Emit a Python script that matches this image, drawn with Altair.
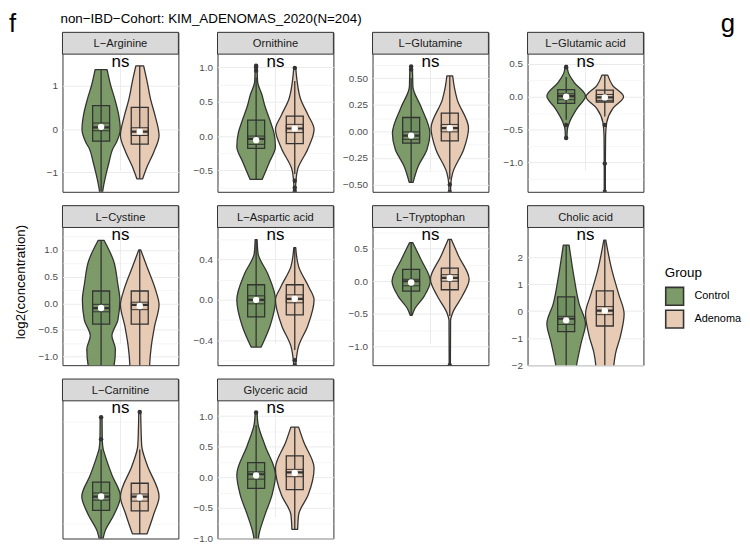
import json
import altair as alt
import pandas as pd

# ---------------- data ----------------
metabolites = ["L−Arginine", "Ornithine", "L−Glutamine", "L−Glutamic acid",
               "L−Cystine", "L−Aspartic acid", "L−Tryptophan", "Cholic acid",
               "L−Carnitine", "Glyceric acid"]
groups = ["Control", "Adenoma"]
fill_colors = ["#7d9b69", "#e8cbb4"]
box_colors = ["#71905f", "#e0c2aa"]
panel_tags = ["f", "g"]
chart_title = "non−IBD−Cohort: KIM_ADENOMAS_2020(N=204)"
y_title = "log2(concentration)"
sig_label = "ns"

# panel y ranges
y_min = [-1.45, -0.81, -0.568, -1.45, -1.16, -0.65, -1.28, -2.0, -0.79, -1.0]
y_max = [1.73, 1.19, 0.725, 0.65, 1.42, 0.72, 0.82, 3.1, 1.9, 1.25]
major_ticks = [[-1, 0, 1], [-0.5, 0, 0.5, 1.0], [-0.5, -0.25, 0, 0.25, 0.5],
               [-1.0, -0.5, 0, 0.5], [-1, -0.5, 0, 0.5, 1], [-0.4, 0, 0.4],
               [-1, -0.5, 0, 0.5], [-2, -1, 0, 1, 2], [0, 1], [-1, -0.5, 0, 0.5, 1]]
minor_ticks = [[-0.5, 0.5, 1.5], [-0.75, -0.25, 0.25, 0.75],
               [-0.375, -0.125, 0.125, 0.375, 0.625], [-1.25, -0.75, -0.25, 0.25],
               [-0.75, -0.25, 0.25, 0.75, 1.25], [-0.6, -0.2, 0.2, 0.6],
               [-1.25, -0.75, -0.25, 0.25, 0.75], [-1.5, -0.5, 0.5, 1.5, 2.5],
               [-0.5, 0.5, 1.5], [-0.75, -0.25, 0.25, 0.75]]
tick_formats = ["d", ".1f", ".2f", ".1f", ".1f", ".1f", ".1f", "d", "d", ".1f"]

# violin outlines: y values and relative half-widths (1 = widest)
control_violin_y = [
    [1.37, 1.0, 0.69, 0.3, 0.0, -0.3, -0.46, -0.75, -1.0, -1.45, -1.7],
    [1.02, 0.9, 0.78, 0.6, 0.44, 0.2, 0.05, -0.15, -0.39, -0.63],
    [0.61, 0.5, 0.42, 0.23, -0.02, -0.17, -0.33, -0.48],
    [0.48, 0.38, 0.22, 0.01, -0.18, -0.39, -0.5, -0.63],
    [1.18, 0.8, 0.37, 0.06, -0.31, -0.61, -0.86, -1.17, -1.3],
    [0.6, 0.46, 0.26, 0.0, -0.26, -0.42, -0.47],
    [0.59, 0.33, 0.0, -0.23, -0.43, -0.52],
    [2.45, 1.24, 0.27, -0.46, -1.19, -2.04, -2.2],
    [1.58, 1.15, 0.97, 0.84, 0.45, 0.03, -0.32, -0.65, -0.79],
    [1.06, 0.87, 0.52, 0.04, -0.29, -0.61, -0.93, -1.1],
]
control_violin_w = [
    [0.31, 0.5, 0.71, 0.92, 0.99, 0.8, 0.6, 0.42, 0.28, 0.08, 0.04],
    [0.05, 0.06, 0.08, 0.3, 0.45, 0.75, 0.92, 1.0, 0.67, 0.31],
    [0.06, 0.08, 0.09, 0.51, 0.97, 0.82, 0.36, 0.1],
    [0.05, 0.1, 0.41, 1.0, 0.56, 0.17, 0.06, 0.04],
    [0.15, 0.64, 0.86, 0.97, 0.87, 0.56, 0.74, 0.67, 0.6],
    [0.05, 0.1, 0.6, 1.0, 0.72, 0.38, 0.26],
    [0.08, 0.51, 0.99, 0.67, 0.17, 0.05],
    [0.15, 0.41, 0.67, 1.0, 0.77, 0.53, 0.5],
    [0.05, 0.06, 0.1, 0.2, 0.56, 1.0, 0.67, 0.2, 0.1],
    [0.05, 0.1, 0.46, 1.0, 0.82, 0.46, 0.15, 0.08],
]
adenoma_violin_y = [
    [1.46, 1.1, 0.69, 0.3, -0.15, -0.54, -0.85, -1.15],
    [0.99, 0.8, 0.53, 0.3, 0.1, -0.19, -0.48, -0.65, -0.8],
    [0.52, 0.4, 0.3, 0.03, -0.17, -0.39, -0.5, -0.6],
    [0.33, 0.17, 0.0, -0.18, -0.39, -0.6, -1.0, -1.45],
    [1.0, 0.68, 0.25, -0.03, -0.43, -0.8, -1.17, -1.3],
    [0.52, 0.33, 0.13, 0.0, -0.26, -0.46, -0.59, -0.7],
    [0.64, 0.38, 0.03, -0.23, -0.48, -0.6, -1.35],
    [2.63, 1.48, 0.63, -0.1, -0.95, -1.55, -2.04, -2.2],
    [1.68, 1.03, 0.65, 0.03, -0.32, -0.7],
    [0.82, 0.58, 0.15, -0.29, -0.61, -0.85],
]
adenoma_violin_w = [
    [0.2, 0.38, 0.56, 0.8, 1.0, 0.72, 0.4, 0.15],
    [0.05, 0.12, 0.31, 0.7, 1.0, 0.67, 0.15, 0.06, 0.04],
    [0.15, 0.25, 0.38, 0.97, 0.72, 0.15, 0.05, 0.04],
    [0.15, 0.41, 0.97, 0.41, 0.1, 0.04, 0.03, 0.03],
    [0.05, 0.38, 0.82, 1.0, 0.77, 0.6, 0.51, 0.5],
    [0.05, 0.2, 0.72, 1.0, 0.67, 0.2, 0.08, 0.04],
    [0.08, 0.46, 1.0, 0.64, 0.15, 0.04, 0.03],
    [0.05, 0.38, 0.72, 1.0, 0.8, 0.56, 0.46, 0.44],
    [0.05, 0.1, 0.38, 1.0, 0.72, 0.38],
    [0.2, 0.46, 1.0, 0.69, 0.2, 0.15],
]

# box statistics
control_q1 = [-0.28, -0.18, -0.11, -0.1, -0.39, -0.17, -0.15, -0.76, -0.24, -0.18]
control_median = [0.04, -0.04, -0.04, 0.01, -0.09, 0.0, 0.0, -0.28, 0.03, 0.05]
control_q3 = [0.54, 0.23, 0.13, 0.11, 0.23, 0.15, 0.18, 0.53, 0.31, 0.24]
control_wlo = [-1.6, -0.63, -0.48, -0.35, -1.25, -0.47, -0.52, -2.2, -0.79, -1.1]
control_whi = [1.37, 0.85, 0.5, 0.3, 1.18, 0.6, 0.59, 2.45, 0.95, 0.85]
control_mean = [0.05, -0.06, -0.04, 0.0, -0.09, 0.0, -0.02, -0.34, 0.03, 0.03]
control_se = [0.09, 0.06, 0.035, 0.045, 0.07, 0.04, 0.05, 0.15, 0.07, 0.06]
control_outliers = [[], [0.95, 1.0, 1.02], [0.58, 0.61], [0.45, -0.43, -0.63], [], [],
                    [], [], [1.15, 1.58], [1.06]]

adenoma_q1 = [-0.35, -0.11, -0.09, -0.08, -0.39, -0.15, -0.13, -0.55, -0.25, -0.2]
adenoma_median = [-0.06, 0.11, 0.03, -0.01, -0.03, 0.01, 0.05, 0.02, 0.03, 0.08]
adenoma_q3 = [0.5, 0.29, 0.17, 0.1, 0.23, 0.15, 0.2, 0.75, 0.29, 0.35]
adenoma_wlo = [-1.15, -0.55, -0.45, -0.3, -1.25, -0.5, -0.53, -2.2, -0.7, -0.85]
adenoma_whi = [1.46, 0.8, 0.52, 0.33, 1.0, 0.52, 0.64, 2.63, 0.95, 0.82]
adenoma_mean = [-0.06, 0.11, 0.03, -0.01, -0.05, 0.01, 0.05, 0.02, 0.01, 0.07]
adenoma_se = [0.09, 0.06, 0.035, 0.045, 0.07, 0.04, 0.05, 0.15, 0.07, 0.06]
adenoma_outliers = [[], [0.99, -0.65, -0.75, -0.8], [-0.5, -0.57], [-0.43, -1.02, -1.45],
                    [], [-0.6, -0.65], [-1.28], [], [1.68], []]

# ---------------- layout constants ----------------
PW, PH, SH = 117, 139, 22
H = PH + SH
DODGE = 0.8
MAXHW = 0.2
BOXHW = 0.088
INK = "#333333"
FONT = "Liberation Sans"

stats = {
    "Control": (control_q1, control_median, control_q3, control_wlo, control_whi,
                control_mean, control_se, control_outliers, control_violin_y, control_violin_w),
    "Adenoma": (adenoma_q1, adenoma_median, adenoma_q3, adenoma_wlo, adenoma_whi,
                adenoma_mean, adenoma_se, adenoma_outliers, adenoma_violin_y, adenoma_violin_w),
}

fill_scale = alt.Scale(domain=groups, range=fill_colors)
legend = alt.Legend(
    title="Group", orient="none", legendX=608, legendY=236,
    symbolType="square", symbolSize=324, symbolStrokeColor=INK, symbolStrokeWidth=1.6,
    titleFontSize=13.5, titleFontWeight="normal", titleColor="black", titleFont=FONT,
    labelFontSize=11, labelColor="black", labelFont=FONT, labelOffset=10,
    rowPadding=-5, titlePadding=7,
)
xaxis = alt.Axis(values=[1.0], labels=False, ticks=False, domain=False, title=None,
                 grid=True, gridWidth=1.0)

panels = []
for i, name in enumerate(metabolites):
    vrows, brows, orows = [], [], []
    for gi, g in enumerate(groups):
        q1, md, q3, wlo, whi, mn, se, outl, vy, vw = stats[g]
        c = 1 + (gi - 0.5) * DODGE / 2
        for yy, ww in sorted(zip(vy[i], vw[i])):
            vrows.append({"group": g, "y": yy, "lo": c - ww * MAXHW, "hi": c + ww * MAXHW})
        brows.append({"group": g, "c": c, "blo": c - BOXHW, "bhi": c + BOXHW,
                      "q1": q1[i], "q3": q3[i], "med": md[i], "wlo": wlo[i], "whi": whi[i],
                      "mean": mn[i], "selo": mn[i] - se[i], "sehi": mn[i] + se[i],
                      "boxcol": box_colors[gi]})
        for o in outl[i]:
            orows.append({"group": g, "c": c, "v": o})
    vdf = pd.DataFrame(vrows)
    bdf = pd.DataFrame(brows)
    odf = pd.DataFrame(orows if orows else [{"group": "Control", "c": 1.0, "v": 99.0}])

    major = major_ticks[i]
    allv = sorted(major + minor_ticks[i])
    test = "indexof(%s, datum.value) >= 0" % json.dumps(major)
    yaxis = alt.Axis(values=allv, format=tick_formats[i],
                     labelExpr="%s ? datum.label : ''" % test,
                     gridWidth={"condition": {"test": test, "value": 1.0}, "value": 0.5},
                     labelOverlap=False, title=None)
    yscale = alt.Scale(domain=[y_min[i], y_max[i]], range=[H, SH], nice=False, zero=False)
    xscale = alt.Scale(domain=[0.4, 1.6], nice=False, zero=False)

    def Y(f):
        return alt.Y(f, scale=yscale, axis=yaxis)

    def X(f):
        return alt.X(f, scale=xscale, axis=xaxis)

    violin = alt.Chart(vdf).mark_area(
        orient="horizontal", interpolate="monotone", stroke=INK, strokeWidth=1.3,
        strokeJoin="round", clip=True
    ).encode(y=Y("y:Q"), x=X("lo:Q"), x2="hi:Q",
             fill=alt.Fill("group:N", scale=fill_scale, legend=legend))
    box = alt.Chart(bdf).mark_rect(stroke=INK, strokeWidth=1.3, clip=True).encode(
        y=Y("q1:Q"), y2="q3:Q", x=X("blo:Q"), x2="bhi:Q",
        fill=alt.Fill("boxcol:N", scale=None))
    whisker = alt.Chart(bdf).mark_rule(color=INK, strokeWidth=1.3, clip=True).encode(
        y=Y("wlo:Q"), y2="whi:Q", x=X("c:Q"))
    crossbar = alt.Chart(bdf).mark_rect(stroke=INK, strokeWidth=1.0, fillOpacity=0,
                                        clip=True).encode(
        y=Y("selo:Q"), y2="sehi:Q", x=X("blo:Q"), x2="bhi:Q")
    median = alt.Chart(bdf).mark_rule(color=INK, strokeWidth=2.2, clip=True).encode(
        y=Y("med:Q"), x=X("blo:Q"), x2="bhi:Q")
    outliers = alt.Chart(odf).mark_circle(color=INK, size=20, opacity=1, clip=True).encode(
        y=Y("v:Q"), x=X("c:Q"))
    mean_pt = alt.Chart(bdf).mark_circle(color="white", size=42, opacity=1, clip=True).encode(
        y=Y("mean:Q"), x=X("c:Q"))

    sdf = pd.DataFrame({"name": [name], "sig": [sig_label]})
    strip = alt.Chart(sdf).mark_rect(fill="#d9d9d9", stroke=INK, strokeWidth=1).encode(
        x=alt.value(0), x2=alt.value(PW), y=alt.value(0), y2=alt.value(SH))
    strip_txt = alt.Chart(sdf).mark_text(fontSize=11.3, font=FONT, color="#1a1a1a",
                                         baseline="middle").encode(
        text="name:N", x=alt.value(PW / 2), y=alt.value(SH / 2 + 1))
    ns_txt = alt.Chart(sdf).mark_text(fontSize=17, font=FONT, color="black",
                                      baseline="alphabetic").encode(
        text="sig:N", x=alt.value(PW / 2), y=alt.value(SH + 12.5))

    layers = [violin, box, whisker, crossbar, median, outliers, mean_pt, strip, strip_txt, ns_txt]
    if i == 0:
        layers.append(alt.Chart(pd.DataFrame({"t": [panel_tags[0]]})).mark_text(
            fontSize=26, font=FONT, align="left", baseline="top", color="black"
        ).encode(text="t:N", x=alt.value(-54), y=alt.value(-21)))
        layers.append(alt.Chart(pd.DataFrame({"t": [chart_title]})).mark_text(
            fontSize=13.5, font=FONT, align="left", baseline="alphabetic", color="black"
        ).encode(text="t:N", x=alt.value(-2), y=alt.value(-9)))
    if i == 3:
        layers.append(alt.Chart(pd.DataFrame({"t": [panel_tags[1]]})).mark_text(
            fontSize=26, font=FONT, align="left", baseline="top", color="black"
        ).encode(text="t:N", x=alt.value(195), y=alt.value(-21)))
    if i == 4:
        layers.append(alt.Chart(pd.DataFrame({"t": [y_title]})).mark_text(
            fontSize=13.5, font=FONT, angle=270, align="center", baseline="middle",
            color="black"
        ).encode(text="t:N", x=alt.value(-42), y=alt.value(77)))
    panels.append(alt.layer(*layers).properties(width=PW, height=H))

chart = alt.concat(*panels, columns=4, spacing={"row": 14, "column": 39.5}, bounds="flush").properties(
    padding=0,
).configure(font=FONT).configure_view(stroke=INK, strokeWidth=1).configure_axis(
    labelFont=FONT, labelFontSize=10, labelColor="#4d4d4d", ticks=False, domain=False,
    labelPadding=5, gridColor="#ebebeb",
)

chart.save("out.html", embed_options={"renderer": "svg", "actions": False})
